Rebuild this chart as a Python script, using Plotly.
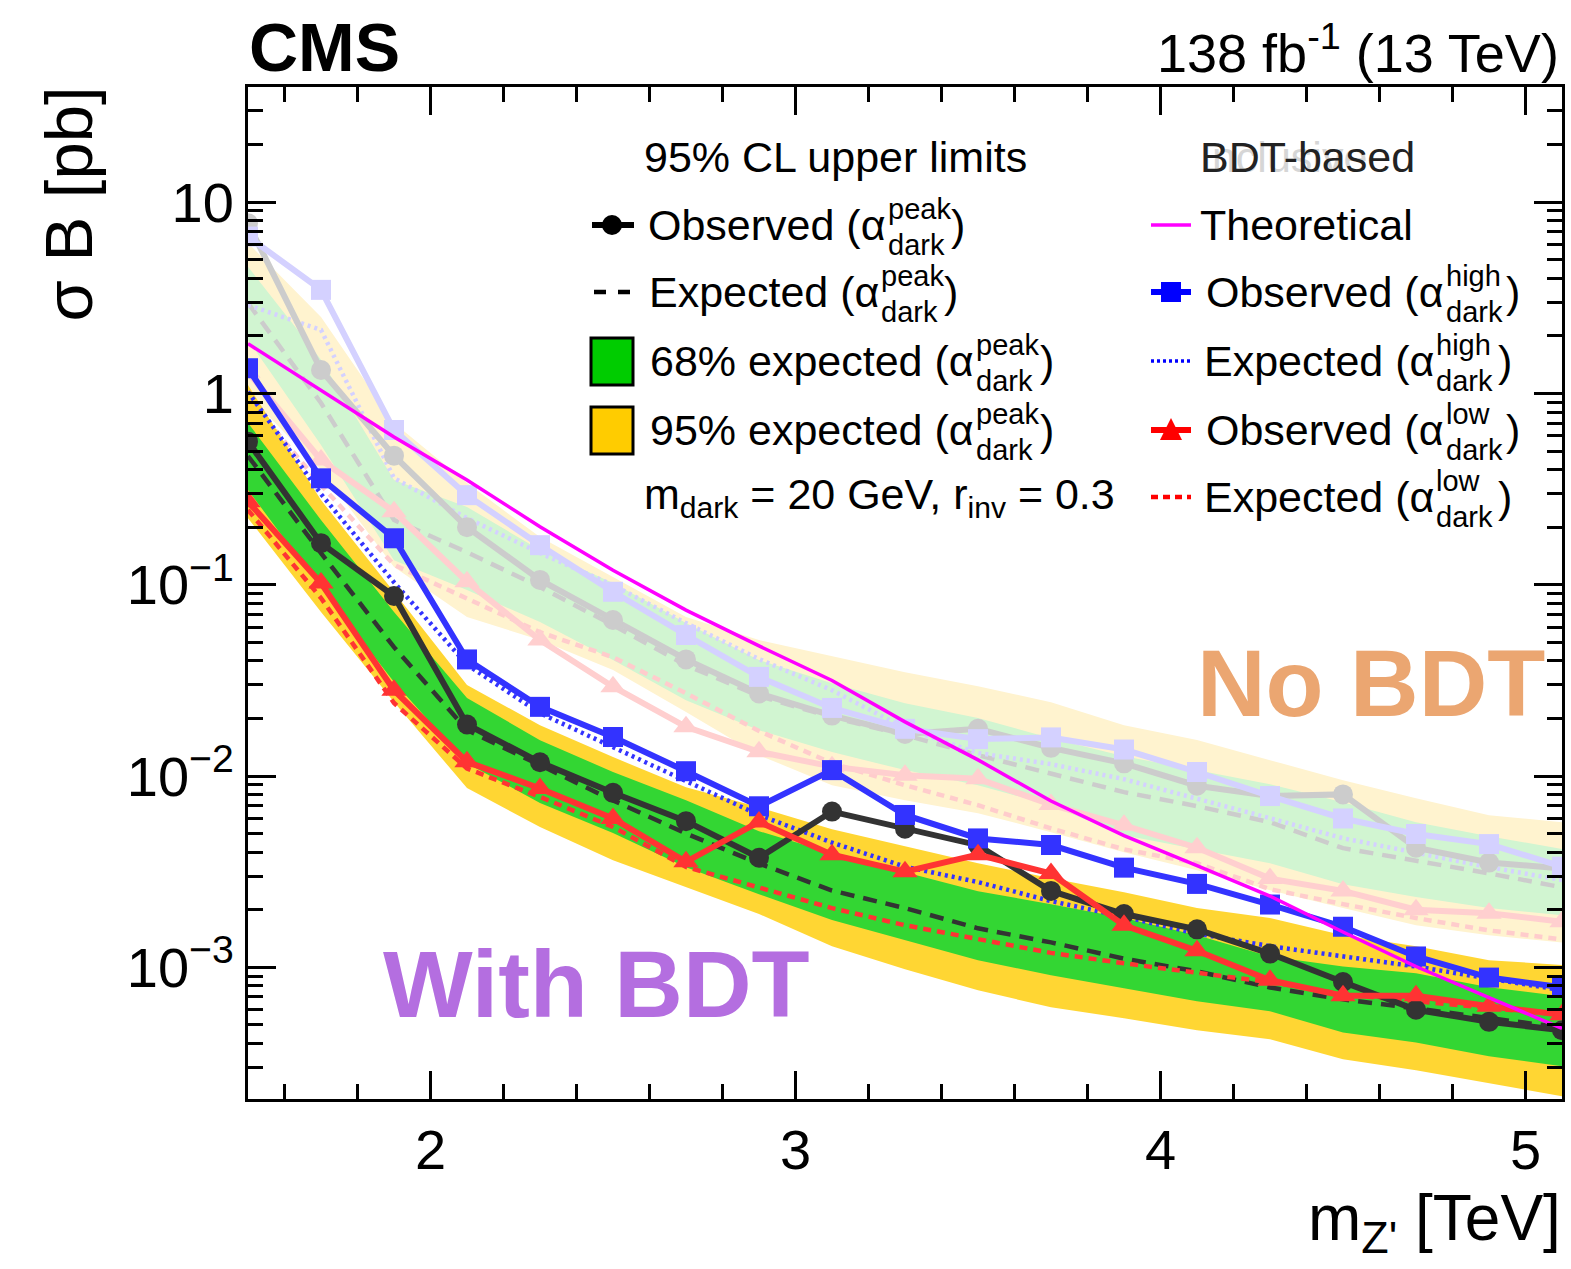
import math
import plotly.graph_objects as go

# ---------------- data (sigma*B in pb) ----------------
mass = [1.5, 1.7, 1.9, 2.1, 2.3, 2.5, 2.7, 2.9, 3.1, 3.3, 3.5, 3.7, 3.9, 4.1, 4.3, 4.5, 4.7, 4.9, 5.1]

# With BDT (BDT-based)
obs_peak = [0.560, 0.165, 0.0873, 0.0186, 0.0118, 0.00817, 0.00581, 0.00374, 0.00652, 0.00530,
            0.00435, 0.00251, 0.00190, 0.00158, 0.00118, 0.000838, 0.000600, 0.000519, 0.000469]
exp_peak = [0.471, 0.1465, 0.0472, 0.0174, 0.0114, 0.00746, 0.00501, 0.00349, 0.00252, 0.00204,
            0.00160, 0.00135, 0.00111, 0.000953, 0.000785, 0.000680, 0.000610, 0.000540, 0.000484]
band68_hi = [0.701, 0.218, 0.0720, 0.0256, 0.0154, 0.0105, 0.00748, 0.00515, 0.00395, 0.00314,
             0.00250, 0.00214, 0.00181, 0.00147, 0.00114, 0.00101, 0.000931, 0.000787, 0.000706]
band68_lo = [0.313, 0.0961, 0.0310, 0.01167, 0.00722, 0.00504, 0.00334, 0.00241, 0.00177, 0.00139,
             0.00109, 0.000909, 0.000778, 0.000665, 0.000589, 0.000457, 0.000405, 0.000343, 0.000304]
band95_hi = [1.107, 0.277, 0.0916, 0.0299, 0.01845, 0.01256, 0.00875, 0.00687, 0.00527, 0.00430,
             0.00350, 0.00292, 0.00247, 0.00204, 0.00181, 0.00147, 0.00129, 0.00109, 0.00103]
band95_lo = [0.223, 0.0720, 0.0244, 0.00865, 0.00541, 0.00363, 0.00262, 0.00190, 0.00129, 0.000977,
             0.000759, 0.000618, 0.000542, 0.000469, 0.000421, 0.000331, 0.000290, 0.000248, 0.000212]
obs_high = [1.355, 0.360, 0.175, 0.0407, 0.0230, 0.0160, 0.0106, 0.00695, 0.01074, 0.00626,
            0.00472, 0.00436, 0.00332, 0.00273, 0.00213, 0.00163, 0.00114, 0.000884, 0.000787]
exp_high = [1.02, 0.298, 0.103, 0.0382, 0.0213, 0.0142, 0.00952, 0.00626, 0.00449, 0.00336,
            0.00279, 0.00222, 0.00184, 0.00150, 0.00129, 0.00114, 0.00101, 0.000873, 0.000760]
obs_low = [0.272, 0.102, 0.0281, 0.01187, 0.00861, 0.00600, 0.00356, 0.00576, 0.00388, 0.00316,
           0.00388, 0.00309, 0.00166, 0.00122, 0.000856, 0.000710, 0.000710, 0.000626, 0.000565]
exp_low = [0.246, 0.0852, 0.0241, 0.01096, 0.00778, 0.00542, 0.00335, 0.00262, 0.00204, 0.00166,
           0.00141, 0.00119, 0.00105, 0.000931, 0.000836, 0.000723, 0.000665, 0.000611, 0.000565]
theory = [1.82, 1.04, 0.592, 0.353, 0.201, 0.119, 0.0737, 0.0479, 0.0316, 0.0192,
          0.01215, 0.0074, 0.00488, 0.00340, 0.00236, 0.00153, 0.00101, 0.000695, 0.000479]

# No BDT (inclusive)
nb_obs_peak = [7.77, 1.327, 0.473, 0.200, 0.106, 0.0654, 0.0407, 0.0270, 0.0207, 0.0166,
               0.01766, 0.01404, 0.01165, 0.00890, 0.00786, 0.00802, 0.00422, 0.00353, 0.00329]
nb_exp_peak = [2.97, 0.892, 0.218, 0.148, 0.0973, 0.0615, 0.0380, 0.0262, 0.0203, 0.01637,
               0.01286, 0.01035, 0.00824, 0.00696, 0.00574, 0.00420, 0.00363, 0.00310, 0.00262]
nb_band68_hi = [4.59, 1.50, 0.353, 0.255, 0.152, 0.102, 0.0631, 0.0404, 0.0306, 0.0240,
                0.0201, 0.01578, 0.01271, 0.01074, 0.00907, 0.00730, 0.00574, 0.00485, 0.00415]
nb_band68_lo = [1.905, 0.538, 0.1345, 0.0938, 0.0638, 0.0404, 0.0249, 0.01738, 0.01334, 0.01074,
                0.00896, 0.00704, 0.00491, 0.00415, 0.00350, 0.00272, 0.00233, 0.00204, 0.00187]
nb_band95_hi = [6.12, 2.51, 0.701, 0.340, 0.1775, 0.1097, 0.0678, 0.0514, 0.0424, 0.0349,
                0.0295, 0.0243, 0.01845, 0.01541, 0.01211, 0.00952, 0.00766, 0.00624, 0.00574]
nb_band95_lo = [0.982, 0.398, 0.1238, 0.0678, 0.0514, 0.0358, 0.0216, 0.01286, 0.00896, 0.00748,
                0.00640, 0.00509, 0.00400, 0.00322, 0.00253, 0.00204, 0.00166, 0.00147, 0.00135]
nb_obs_high = [6.61, 3.48, 0.644, 0.294, 0.161, 0.0919, 0.0546, 0.0330, 0.0227, 0.01766,
               0.01560, 0.01592, 0.01376, 0.01050, 0.00786, 0.00600, 0.00498, 0.00441, 0.00336]
nb_exp_high = [2.90, 2.15, 0.361, 0.223, 0.1465, 0.0996, 0.0630, 0.0409, 0.0281, 0.0178,
               0.0132, 0.01154, 0.00963, 0.00766, 0.00602, 0.00473, 0.00395, 0.00334, 0.00286]
nb_obs_low = [1.29, 0.449, 0.241, 0.1037, 0.0514, 0.0293, 0.0181, 0.0134, 0.0112, 0.01009,
              0.00967, 0.00709, 0.00553, 0.00422, 0.00291, 0.00251, 0.00200, 0.00192, 0.00173]
nb_exp_low = [0.947, 0.332, 0.127, 0.0852, 0.0565, 0.0418, 0.0271, 0.0172, 0.01168, 0.00896,
              0.00704, 0.00533, 0.00414, 0.00350, 0.00256, 0.00214, 0.00181, 0.00156, 0.00140]

x_ticks = [2, 3, 4, 5]
y_ticks = [1e-3, 1e-2, 1e-1, 1, 10]
y_ticktext = ["10<sup>\u22123</sup>", "10<sup>\u22122</sup>", "10<sup>\u22121</sup>", "1", "10"]

# ---------------- layout geometry ----------------
W, H = 1571, 1269
ML, MR, MT, MB = 248, 9, 87, 170
PW = W - ML - MR
PH = H - MT - MB
FONT = "Liberation Sans, Arial, sans-serif"


def px(x):
    return (x - ML) / PW


def py(y):
    return (H - MB - y) / PH


fig = go.Figure()


def band(lo, hi, color):
    fig.add_trace(go.Scatter(x=mass + mass[::-1], y=hi + lo[::-1], fill="toself",
                             fillcolor=color, line=dict(width=0), mode="lines",
                             hoverinfo="skip"))


def line(y, color, width, dash="solid", symbol=None, msize=20):
    fig.add_trace(go.Scatter(x=mass, y=y, mode="lines+markers" if symbol else "lines",
                             line=dict(color=color, width=width, dash=dash),
                             marker=dict(symbol=symbol or "circle", size=msize, color=color,
                                         line=dict(width=0))))


# No BDT (faded)
band(nb_band95_lo, nb_band95_hi, "#fff3cf")
band(nb_band68_lo, nb_band68_hi, "#d1f5d1")
line(nb_exp_peak, "#cccccc", 4.5, "14px,9px")
line(nb_exp_high, "#d4d1ff", 4.5, "3px,4px")
line(nb_exp_low, "#ffcccc", 4.5, "8px,6px")
line(nb_obs_low, "#ffcfcf", 6, symbol="triangle-up", msize=22)
line(nb_obs_peak, "#cccccc", 6, symbol="circle")
line(nb_obs_high, "#d4d1ff", 6, symbol="square")

# With BDT
band(band95_lo, band95_hi, "#ffd633")
band(band68_lo, band68_hi, "#33d633")
line(exp_peak, "#333333", 4.5, "14px,9px")
line(exp_high, "#3333ff", 4.5, "3px,4px")
line(exp_low, "#ff3333", 4.5, "8px,6px")
line(obs_peak, "#333333", 6, symbol="circle")
line(obs_high, "#3333ff", 6, symbol="square")
line(obs_low, "#ff3333", 6, symbol="triangle-up", msize=22)
fig.add_trace(go.Scatter(x=mass, y=theory, mode="lines", line=dict(color="#ff00ff", width=3.5)))

# ---------------- axes ----------------
x_minor = [round(1.6 + 0.2 * i, 1) for i in range(17)]
x_minor = [v for v in x_minor if v not in x_ticks]
y_minor = [m * 10 ** e for e in range(-4, 2) for m in range(2, 10)]
y_minor = [v for v in y_minor if 2.05e-4 < v <= 40]

axis_common = dict(showline=True, linewidth=3, linecolor="black", mirror="ticks",
                   ticks="inside", ticklen=28, tickwidth=2.5, tickcolor="black",
                   showgrid=False, zeroline=False,
                   tickfont=dict(family=FONT, size=56, color="black"))
fig.update_xaxes(range=[1.5, 5.1], tickmode="array", tickvals=x_ticks,
                 ticktext=[str(v) for v in x_ticks],
                 minor=dict(ticks="inside", ticklen=15, tickwidth=2.5, tickcolor="black",
                            tickmode="array", tickvals=x_minor, showgrid=False),
                 **axis_common)
fig.update_yaxes(type="log", range=[math.log10(2.05e-4), math.log10(40)], tickmode="array",
                 tickvals=y_ticks, ticktext=y_ticktext,
                 minor=dict(ticks="inside", ticklen=15, tickwidth=2.5, tickcolor="black",
                            tickmode="array", tickvals=y_minor, showgrid=False),
                 **axis_common)

# ---------------- annotations ----------------
ann = []


def text(x, y, s, size, xanchor="left", color="black", bold=False, yanchor="middle", angle=0):
    ann.append(dict(x=px(x), y=py(y), xref="paper", yref="paper", text=s, showarrow=False,
                    xanchor=xanchor, yanchor=yanchor, textangle=angle, borderpad=0,
                    font=dict(family=FONT, size=size, color=color,
                              weight="bold" if bold else "normal")))


text(248, 47, "CMS", 68, bold=True)
text(1560, 49, "138 fb<sup>-1</sup> (13 TeV)", 54, xanchor="right")
text(68, 86, "\u03c3 B [pb]", 67, xanchor="center", yanchor="top", angle=-90)
text(1562, 1222, "m<sub>Z'</sub> [TeV]", 64, xanchor="right")
text(382, 984, "With BDT", 95, color="#b46ee0", bold=True)
text(1196, 683, "No BDT", 95, color="#eba671", bold=True)

LF = 43
SF = 29
text(643, 157, "95% CL upper limits", LF)
text(1199, 157, "Inclusive", LF, color="#d6d6d6")
text(1199, 157, "BDT-based", LF, color="#222222")


def alpha_row(y, main, sup, xs, xc):
    text(xs, y, main, LF, xanchor="right")
    text(xs, y - 16, sup, SF)
    text(xs, y + 20, "dark", SF)
    text(xc, y, ")", LF)


alpha_row(225, "Observed (\u03b1", "peak", 887, 950)
alpha_row(292, "Expected (\u03b1", "peak", 880, 943)
alpha_row(361, "68% expected (\u03b1", "peak", 975, 1039)
alpha_row(430, "95% expected (\u03b1", "peak", 975, 1039)
text(643, 497, "m<sub>dark</sub> = 20 GeV, r<sub>inv</sub> = 0.3", LF)

text(1199, 225, "Theoretical", LF)
alpha_row(292, "Observed (\u03b1", "high", 1445, 1505)
alpha_row(361, "Expected (\u03b1", "high", 1435, 1497)
alpha_row(430, "Observed (\u03b1", "low", 1445, 1505)
alpha_row(497, "Expected (\u03b1", "low", 1435, 1497)

# ---------------- legend glyphs (layout shapes) ----------------
shapes = []


def seg(x0, x1, y, color, width, dash="solid"):
    shapes.append(dict(type="line", xref="paper", yref="paper", x0=px(x0), x1=px(x1),
                       y0=py(y), y1=py(y), line=dict(color=color, width=width, dash=dash)))


def box(x0, x1, y0, y1, fill, kind="rect", lw=3, lc="black"):
    shapes.append(dict(type=kind, xref="paper", yref="paper", x0=px(x0), x1=px(x1),
                       y0=py(y1), y1=py(y0), fillcolor=fill, line=dict(color=lc, width=lw)))


seg(592, 634, 225, "black", 6)
box(602, 622, 215, 235, "black", kind="circle", lw=0, lc="black")
seg(594, 634, 292, "black", 4.5, "12px,12px")
box(591, 633, 338, 385, "#00cc00")
box(591, 633, 407, 454, "#ffcc00")

seg(1151, 1191, 225, "#ff00ff", 3.5)
seg(1151, 1191, 292, "#0000ff", 6)
box(1161, 1181, 282, 302, "#0000ff", lw=0, lc="#0000ff")
seg(1151, 1191, 361, "#0000ff", 3.5, "3px,3px")
seg(1151, 1191, 430, "#ff0000", 6)
shapes.append(dict(type="path", xref="paper", yref="paper",
                   path=f"M {px(1171)},{py(418)} L {px(1160)},{py(440)} L {px(1182)},{py(440)} Z",
                   fillcolor="#ff0000", line=dict(width=0)))
seg(1151, 1191, 497, "#ff0000", 4.5, "7px,5px")

fig.update_layout(width=W, height=H, margin=dict(l=ML, r=MR, t=MT, b=MB, autoexpand=False),
                  paper_bgcolor="white", plot_bgcolor="white", showlegend=False,
                  font=dict(family=FONT, color="black"), annotations=ann, shapes=shapes)

fig.write_html("out.html", config={"displayModeBar": False},
               post_script="document.body.style.margin='0';document.body.style.overflow='hidden';")
